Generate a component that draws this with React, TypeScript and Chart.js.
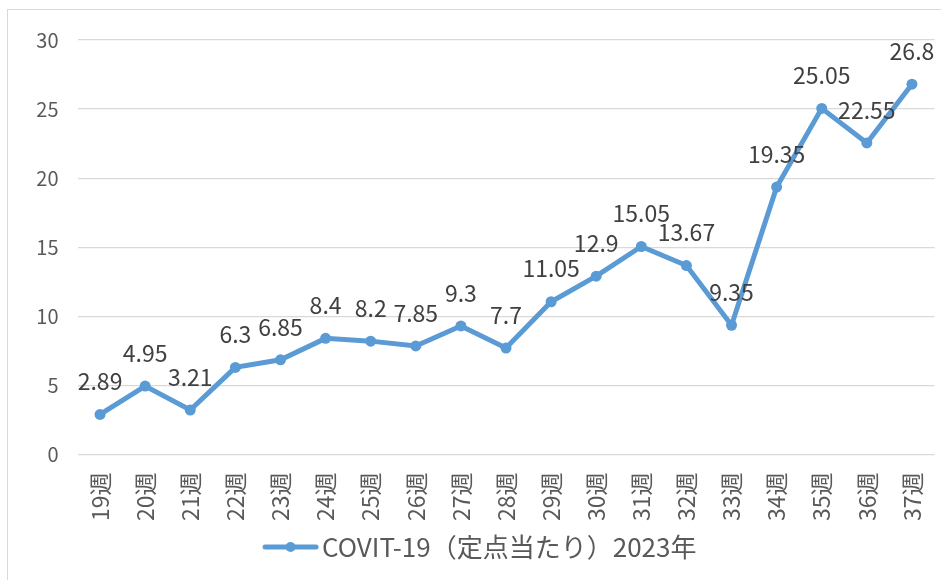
import React, { useEffect, useRef } from "react";
import { Chart, registerables } from "chart.js";

Chart.register(...registerables);

const weeks = ["19週", "20週", "21週", "22週", "23週", "24週", "25週", "26週", "27週", "28週", "29週", "30週", "31週", "32週", "33週", "34週", "35週", "36週", "37週"];
const values = [2.89, 4.95, 3.21, 6.3, 6.85, 8.4, 8.2, 7.85, 9.3, 7.7, 11.05, 12.9, 15.05, 13.67, 9.35, 19.35, 25.05, 22.55, 26.8];
const seriesName = "COVIT-19（定点当たり）2023年";

const BLUE = "#5B9BD5";
const TEXT = "#595959";
const FONT = "'Noto Sans CJK JP', 'Noto Sans', sans-serif";

const LEGEND_BOX = 63;

function makeMarker(): HTMLCanvasElement {
  const c = document.createElement("canvas");
  c.width = LEGEND_BOX + 20;
  c.height = 14;
  const ctx = c.getContext("2d")!;
  const x0 = c.width - 57;
  ctx.strokeStyle = BLUE;
  ctx.lineWidth = 5;
  ctx.lineCap = "round";
  ctx.beginPath();
  ctx.moveTo(x0 + 3, 7);
  ctx.lineTo(x0 + 54, 7);
  ctx.stroke();
  ctx.fillStyle = BLUE;
  ctx.beginPath();
  ctx.arc(x0 + 28.5, 7, 5, 0, Math.PI * 2);
  ctx.fill();
  return c;
}

const dataLabels = {
  id: "dataLabels",
  afterDatasetsDraw(chart: any) {
    const ctx = chart.ctx;
    const meta = chart.getDatasetMeta(0);
    ctx.save();
    ctx.font = `23px ${FONT}`;
    ctx.fillStyle = "#404040";
    ctx.textAlign = "center";
    ctx.textBaseline = "middle";
    meta.data.forEach((pt: any, i: number) => {
      ctx.fillText(String(values[i]), pt.x, pt.y - 33);
    });
    ctx.restore();
  },
};

export default function App() {
  const ref = useRef<HTMLCanvasElement>(null);
  useEffect(() => {
    const marker = makeMarker();
    const chart = new Chart(ref.current!, {
      type: "line",
      data: {
        labels: weeks,
        datasets: [
          {
            label: seriesName,
            data: values,
            borderColor: BLUE,
            backgroundColor: BLUE,
            borderWidth: 5,
            pointRadius: 5.5,
            pointBackgroundColor: BLUE,
            pointBorderWidth: 0,
            tension: 0,
          },
        ],
      },
      options: {
        animation: false,
        responsive: false,
        maintainAspectRatio: false,
        layout: { padding: { left: 0, right: 6.5, top: 30, bottom: 10 } },
        scales: {
          x: {
            offset: true,
            grid: {
              display: true,
              drawOnChartArea: false,
              color: "rgba(0,0,0,0)",
              tickColor: "rgba(0,0,0,0)",
              drawTicks: true,
              tickLength: 18,
            },
            border: { display: false },
            ticks: {
              minRotation: 90,
              maxRotation: 90,
              padding: 0,
              color: TEXT,
              font: { size: 23, family: FONT },
            },
            afterFit(scale: any) {
              scale.height = 69.6;
            },
          },
          y: {
            min: 0,
            max: 30,
            ticks: {
              stepSize: 5,
              padding: 0,
              color: TEXT,
              font: { size: 20, family: FONT },
            },
            grid: {
              color: "#d9d9d9",
              lineWidth: 1.2,
              drawTicks: true,
              tickLength: 19,
              tickColor: "rgba(0,0,0,0)",
            },
            border: { display: false },
            afterFit(scale: any) {
              scale.width = 69.5;
            },
          },
        },
        plugins: {
          legend: {
            position: "bottom",
            labels: {
              usePointStyle: true,
              pointStyleWidth: LEGEND_BOX,
              color: TEXT,
              font: { size: 26, family: FONT },
              generateLabels(ch: any) {
                const items = (Chart.defaults.plugins.legend.labels as any).generateLabels(ch);
                items.forEach((it: any) => {
                  it.pointStyle = marker;
                });
                return items;
              },
            },
          },
          tooltip: { enabled: false },
        },
      },
      plugins: [dataLabels],
    });
    return () => chart.destroy();
  }, []);

  return (
    <div
      style={{
        position: "fixed",
        left: 7,
        top: 9,
        width: 934,
        height: 571,
        borderLeft: "1px solid #d9d9d9",
        borderTop: "1px solid #d9d9d9",
        background: "#fff",
      }}
    >
      <canvas ref={ref} width={933} height={570} style={{ display: "block", width: 933, height: 570 }} />
    </div>
  );
}
